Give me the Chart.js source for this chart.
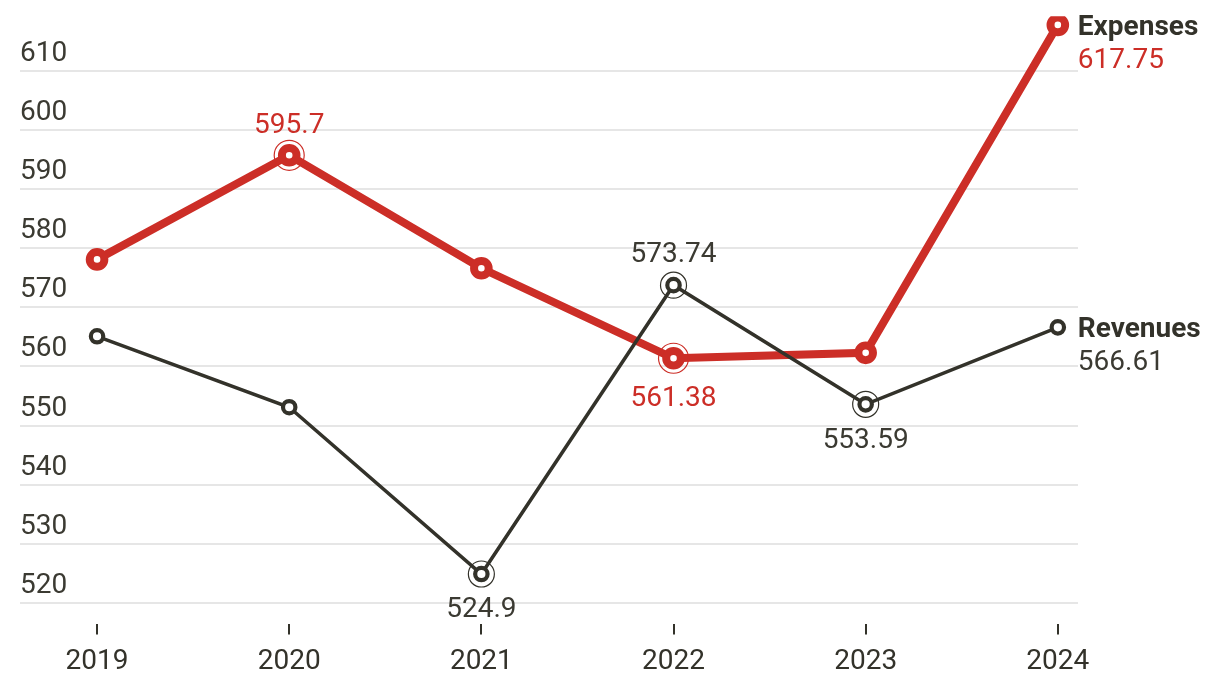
<!DOCTYPE html>
<html lang="en">
<head>
<meta charset="UTF-8">
<title>Revenues and Expenses</title>
<script src="https://cdn.jsdelivr.net/npm/chart.js"></script>
<style>
  * { margin: 0; padding: 0; box-sizing: border-box; }
  html, body { width: 100%; height: 100%; background: #fff; }
  .chart-wrap { position: relative; width: 1220px; height: 690px; }
</style>
</head>
<body>
<div class="chart-wrap"><canvas id="chart"></canvas></div>
<script>
const years = [2019, 2020, 2021, 2022, 2023, 2024];
const expenses = [578.1, 595.7, 576.6, 561.38, 562.3, 617.75];
const revenues = [565.1, 553.1, 524.9, 573.74, 553.59, 566.61];
const yTicks = [520, 530, 540, 550, 560, 570, 580, 590, 600, 610];
// indices of points that get a ring and a value label
const expensesMarked = [1, 3];
const revenuesMarked = [2, 3, 4];

const RED = '#cc2e27';
const DARK = '#33322a';
const TEXT = '#3b3a32';

Chart.defaults.font.family = 'Roboto, "Noto Sans", sans-serif';
Chart.defaults.font.size = 28;
Chart.defaults.color = TEXT;

// label placement: dataset index -> {point index: vertical offset}
const labelOffsets = [
  { 2: 36, 3: -30, 4: 37 },   // revenues
  { 1: -29, 3: 41 }           // expenses
];
const seriesNames = ['Revenues', 'Expenses'];

const pointLabels = {
  id: 'pointLabels',
  afterDatasetsDraw(chart) {
    const ctx = chart.ctx;
    ctx.save();
    ctx.textBaseline = 'middle';
    [0, 1].forEach(di => {
      const meta = chart.getDatasetMeta(di);
      const values = chart.data.datasets[di].data;
      // values next to marked points
      ctx.textAlign = 'center';
      ctx.font = '28px Roboto';
      ctx.fillStyle = di === 1 ? RED : TEXT;
      Object.keys(labelOffsets[di]).forEach(k => {
        const p = meta.data[k];
        ctx.fillText(String(values[k]), p.x, p.y + labelOffsets[di][k]);
      });
      // series name + last value at the line end
      const last = meta.data[meta.data.length - 1];
      ctx.textAlign = 'left';
      ctx.font = 'bold 28px Roboto';
      ctx.fillStyle = DARK;
      ctx.fillText(seriesNames[di], last.x + 20, last.y + 3);
      ctx.font = '28px Roboto';
      ctx.fillStyle = di === 1 ? RED : TEXT;
      ctx.fillText(String(values[values.length - 1]), last.x + 20, last.y + 36);
    });
    ctx.restore();
  }
};

const ringData = (vals, marked) => vals.map((v, i) => marked.includes(i) ? v : null);

new Chart(document.getElementById('chart'), {
  type: 'line',
  data: {
    labels: years,
    datasets: [
      {
        label: 'Revenues',
        data: revenues,
        borderColor: DARK,
        borderWidth: 3.5,
        pointRadius: 6.2,
        pointBorderWidth: 4.2,
        pointBackgroundColor: '#fff',
        pointBorderColor: DARK,
        order: 1
      },
      {
        label: 'Expenses',
        data: expenses,
        borderColor: RED,
        borderWidth: 8,
        pointRadius: 7.3,
        pointBorderWidth: 8,
        pointBackgroundColor: '#fff',
        pointBorderColor: RED,
        order: 2
      },
      {
        label: 'Revenues ring',
        data: ringData(revenues, revenuesMarked),
        showLine: false,
        pointRadius: 13,
        pointBorderWidth: 1.2,
        pointBackgroundColor: 'rgba(0,0,0,0)',
        pointBorderColor: DARK,
        order: 0
      },
      {
        label: 'Expenses ring',
        data: ringData(expenses, expensesMarked),
        showLine: false,
        pointRadius: 15,
        pointBorderWidth: 1.2,
        pointBackgroundColor: 'rgba(0,0,0,0)',
        pointBorderColor: RED,
        order: 0
      }
    ]
  },
  options: {
    responsive: true,
    maintainAspectRatio: false,
    animation: false,
    events: [],
    layout: { padding: { left: 20, right: 142, top: 0, bottom: 0 } },
    plugins: {
      legend: { display: false },
      tooltip: { enabled: false }
    },
    scales: {
      x: {
        type: 'linear',
        min: 2018.599,
        max: 2024.105,
        afterBuildTicks: s => { s.ticks = years.map(v => ({ value: v })); },
        border: { display: false },
        grid: { drawOnChartArea: false, drawTicks: true, tickLength: 10, color: DARK, lineWidth: 2 },
        ticks: { color: DARK, padding: 11, callback: v => String(v), maxRotation: 0 }
      },
      y: {
        min: 516.38,
        max: 619.22,
        afterBuildTicks: s => { s.ticks = yTicks.map(v => ({ value: v })); },
        afterFit: s => { s.paddingTop = 0; s.paddingBottom = 0; },
        border: { display: false },
        grid: { drawTicks: false, color: '#e6e6e6', lineWidth: 2 },
        ticks: { mirror: true, padding: 0, labelOffset: -17, color: TEXT }
      }
    }
  },
  plugins: [pointLabels]
});
</script>
</body>
</html>
